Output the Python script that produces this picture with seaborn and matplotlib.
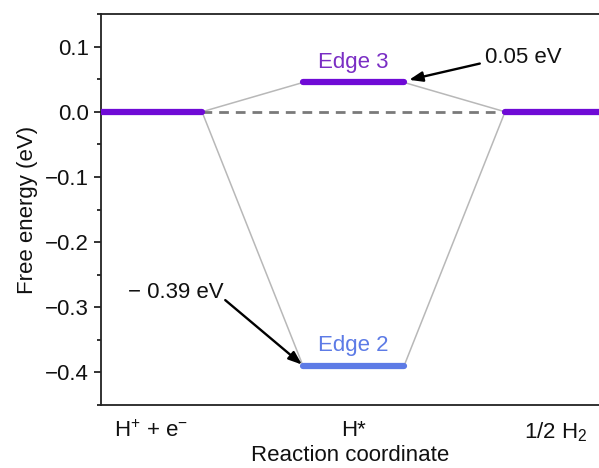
import matplotlib
matplotlib.use("Agg")
import matplotlib.pyplot as plt
from matplotlib.ticker import MultipleLocator
import pandas as pd
import seaborn as sns

steps = [r"H$^{+}$ + e$^{-}$", "H*", r"1/2 H$_2$"]
edge_names = ["Edge 3", "Edge 2"]
edge_energy = [0.045, -0.39]
edge_colors = ["#6f0ad6", "#5d7be6"]
edge_text_colors = ["#7a2ec4", "#5d7be6"]
start_energy = 0.0
end_energy = 0.0
labels_ev = ["0.05 eV", "\u2212 0.39 eV"]

sns.set_style("ticks")
plt.rcParams["font.family"] = ["Liberation Sans", "DejaVu Sans"]
plt.rcParams["mathtext.fontset"] = "custom"
plt.rcParams["mathtext.rm"] = "Liberation Sans"
plt.rcParams["mathtext.it"] = "Liberation Sans:italic"
plt.rcParams["text.color"] = "#111111"
plt.rcParams["axes.labelcolor"] = "#111111"
plt.rcParams["xtick.color"] = "#111111"
plt.rcParams["ytick.color"] = "#111111"

fig = plt.figure(figsize=(5.99, 4.68), dpi=100)
ax = fig.add_axes([0.1686, 0.1346, 0.8314, 0.8354])

# one level per step, step i spans x = [2i, 2i+1]
rows = []
rows += [("start", 0, start_energy), ("start", 1, start_energy)]
for name, e in zip(edge_names, edge_energy):
    rows += [(name, 2, e), (name, 3, e)]
rows += [("end", 4, end_energy), ("end", 5, end_energy)]
levels = pd.DataFrame(rows, columns=["seg", "x", "y"])

# connectors between levels
conn = []
for name, e in zip(edge_names, edge_energy):
    conn += [(name + "_a", 1, start_energy), (name + "_a", 2, e)]
    conn += [(name + "_b", 3, e), (name + "_b", 4, end_energy)]
conn = pd.DataFrame(conn, columns=["seg", "x", "y"])

sns.lineplot(data=conn, x="x", y="y", units="seg", estimator=None,
             color="#b8b8b8", lw=1.1, ax=ax, zorder=1)
ax.plot([1, 4], [start_energy, end_energy], ls=(0, (3.5, 2.5)), color="#7a7a7a", lw=2, zorder=1)

pal = {"start": edge_colors[0], "end": edge_colors[0]}
pal.update(dict(zip(edge_names, edge_colors)))
sns.lineplot(data=levels, x="x", y="y", hue="seg", units="seg", estimator=None,
             palette=pal, lw=4.5, solid_capstyle="round", legend=False, ax=ax, zorder=3)

for name, e, c, dy in zip(edge_names, edge_energy, edge_text_colors, [0.031, 0.032]):
    ax.text(2.5, e + dy, name, color=c, fontsize=16, ha="center", va="center")

arrow = dict(arrowstyle="-|>,head_length=0.8,head_width=0.3", color="black", lw=1.7,
             shrinkA=0, shrinkB=0)
ax.text(3.8, 0.083, labels_ev[0], fontsize=16, ha="left", va="center")
ax.annotate("", xy=(3.05, 0.049), xytext=(3.75, 0.074), arrowprops=arrow)
ax.text(1.21, -0.277, labels_ev[1], fontsize=16, ha="right", va="center")
ax.annotate("", xy=(1.99, -0.388), xytext=(1.23, -0.289), arrowprops=arrow)

ax.set_xlim(0, 4.93)
ax.set_ylim(-0.45, 0.15)
ax.set_xticks([0.5, 2.5, 4.5])
ax.set_xticklabels(steps)
ax.yaxis.set_major_locator(MultipleLocator(0.1))
ax.yaxis.set_minor_locator(MultipleLocator(0.05))
ax.tick_params(axis="x", length=0, pad=11, labelsize=16)
ax.tick_params(axis="y", which="major", length=5, width=1.2, labelsize=16, direction="out")
ax.tick_params(axis="y", which="minor", length=3, width=1.2, direction="out")
ax.set_xlabel("Reaction coordinate", fontsize=16, labelpad=1)
ax.set_ylabel("Free energy (eV)", fontsize=16, labelpad=5)
for s in ["left", "bottom", "top"]:
    ax.spines[s].set_linewidth(1.3)
    ax.spines[s].set_color("#222222")
ax.spines["right"].set_visible(False)

fig.savefig("out.png", dpi=100)
